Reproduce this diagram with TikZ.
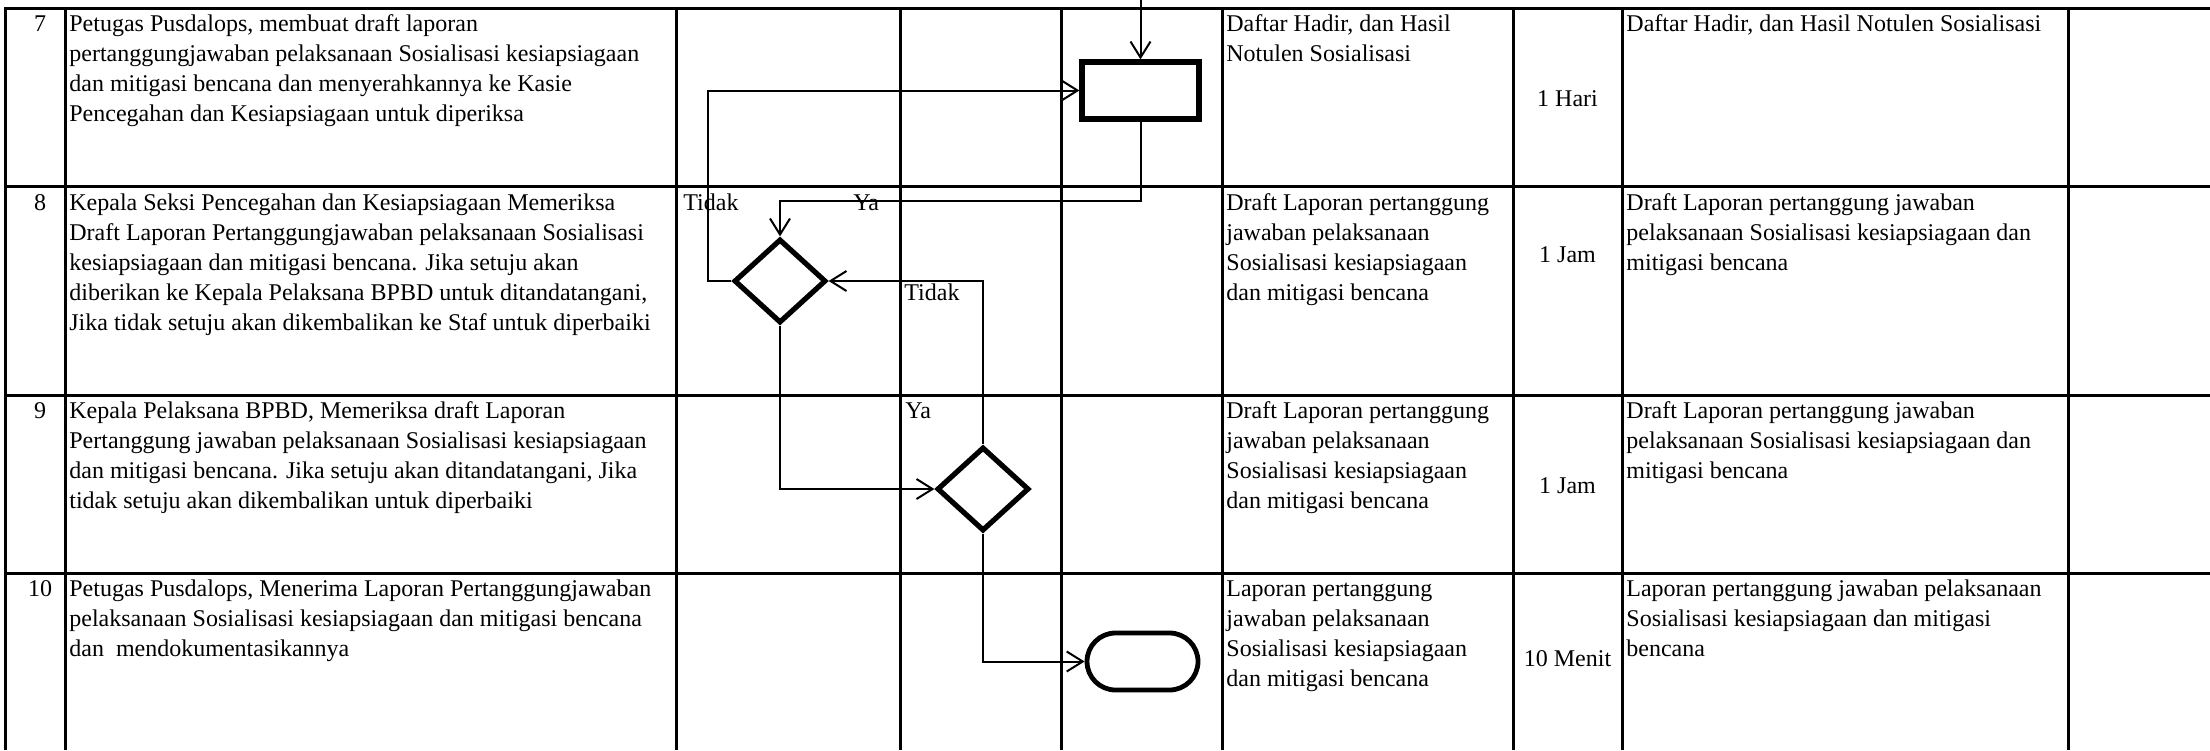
\documentclass[tikz,border=0pt]{standalone}
\usepackage{fontspec}
\setmainfont{Liberation Serif}
\usetikzlibrary{arrows.meta,shapes.geometric,shapes.misc}
\newcommand{\mlines}[1]{\begin{tabular}[t]{@{}l@{}}#1\end{tabular}}
\begin{document}
\begin{tikzpicture}[x=0.5pt,y=-0.5pt,
  gridline/.style={line width=1.5pt},
  txt/.style={anchor=base west, inner sep=0pt, font=\fontsize{12}{15}\selectfont},
  num/.style={anchor=base, inner sep=0pt, font=\fontsize{12}{15}\selectfont},
  dur/.style={anchor=base, inner sep=0pt, font=\fontsize{12}{15}\selectfont},
  procbox/.style={draw, line width=2.6pt, rectangle, inner sep=0pt, minimum width=58.5pt, minimum height=28.5pt},
  decbox/.style={draw, line width=2.6pt, diamond, inner sep=0pt, minimum width=46pt, minimum height=42pt},
  termbox/.style={draw, line width=2.4pt, rounded rectangle, inner sep=0pt, minimum width=55.5pt, minimum height=28.5pt},
  conn/.style={line width=1pt, -{Straight Barb[length=8pt,width=10pt,line width=1pt]}},
  lbl/.style={anchor=base west, inner sep=0pt, font=\fontsize{12}{15}\selectfont}
]
\useasboundingbox (0,0) rectangle (2210,750);
\fill[white] (0,0) rectangle (2210,750);

% grid
\draw[gridline] (5,8) -- (2210,8);
\draw[gridline] (5,186.5) -- (2210,186.5);
\draw[gridline] (5,395) -- (2210,395);
\draw[gridline] (5,573) -- (2210,573);
\foreach \xx in {5,65,676,900,1061,1222,1513,1622,2068}
  \draw[gridline] (\xx,7.3) -- (\xx,750);

% row numbers
\node[num] (n7) at (40,31.3) {7};
\node[num] (n8) at (40,210) {8};
\node[num] (n9) at (40,418.3) {9};
\node[num] (n10) at (40,596.3) {10};

% activity descriptions
\node[txt] (a7) at (69,31.3) {\mlines{Petugas Pusdalops, membuat draft laporan\\
pertanggungjawaban pelaksanaan Sosialisasi kesiapsiagaan\\
dan mitigasi bencana dan menyerahkannya ke Kasie\\
Pencegahan dan Kesiapsiagaan untuk diperiksa}};
\node[txt] (a8) at (69,210) {\mlines{Kepala Seksi Pencegahan dan Kesiapsiagaan Memeriksa\\
Draft Laporan Pertanggungjawaban pelaksanaan Sosialisasi\\
kesiapsiagaan dan mitigasi bencana. Jika setuju akan\\
diberikan ke Kepala Pelaksana BPBD untuk ditandatangani,\\
Jika tidak setuju akan dikembalikan ke Staf untuk diperbaiki}};
\node[txt] (a9) at (69,418.3) {\mlines{Kepala Pelaksana BPBD, Memeriksa draft Laporan\\
Pertanggung jawaban pelaksanaan Sosialisasi kesiapsiagaan\\
dan mitigasi bencana. Jika setuju akan ditandatangani, Jika\\
tidak setuju akan dikembalikan untuk diperbaiki}};
\node[txt] (a10) at (69,596.3) {\mlines{Petugas Pusdalops, Menerima Laporan Pertanggungjawaban\\
pelaksanaan Sosialisasi kesiapsiagaan dan mitigasi bencana\\
dan\ \ mendokumentasikannya}};

% requirements column
\node[txt] (k7) at (1226,31.3) {\mlines{Daftar Hadir, dan Hasil\\ Notulen Sosialisasi}};
\node[txt] (k8) at (1226,210) {\mlines{Draft Laporan pertanggung\\ jawaban pelaksanaan\\ Sosialisasi kesiapsiagaan\\ dan mitigasi bencana}};
\node[txt] (k9) at (1226,418.3) {\mlines{Draft Laporan pertanggung\\ jawaban pelaksanaan\\ Sosialisasi kesiapsiagaan\\ dan mitigasi bencana}};
\node[txt] (k10) at (1226,596.3) {\mlines{Laporan pertanggung\\ jawaban pelaksanaan\\ Sosialisasi kesiapsiagaan\\ dan mitigasi bencana}};

% durations
\node[dur] (w7) at (1567.5,106) {1 Hari};
\node[dur] (w8) at (1567.5,262) {1 Jam};
\node[dur] (w9) at (1567.5,493) {1 Jam};
\node[dur] (w10) at (1567.5,666) {10 Menit};

% outputs
\node[txt] (o7) at (1626,31.3) {\mlines{Daftar Hadir, dan Hasil Notulen Sosialisasi}};
\node[txt] (o8) at (1626,210) {\mlines{Draft Laporan pertanggung jawaban\\ pelaksanaan Sosialisasi kesiapsiagaan dan\\ mitigasi bencana}};
\node[txt] (o9) at (1626,418.3) {\mlines{Draft Laporan pertanggung jawaban\\ pelaksanaan Sosialisasi kesiapsiagaan dan\\ mitigasi bencana}};
\node[txt] (o10) at (1626,596.3) {\mlines{Laporan pertanggung jawaban pelaksanaan\\ Sosialisasi kesiapsiagaan dan mitigasi\\ bencana}};

% flow shapes
\node[procbox] (rect) at (1140.5,90.5) {};
\node[decbox] (d1) at (780,281) {};
\node[decbox] (d2) at (983,489) {};
\node[termbox] (term) at (1142.5,661.5) {};

% connectors
\coordinate (topin) at (1140.5,0);
\draw[conn] (topin) -- (rect.north);
\draw[conn] (d1.west) -- ++(-23,0) |- (rect.west);
\coordinate (j1) at (1140.5,201);
\draw[conn] (rect.south) -- (j1) -| (d1.north);
\draw[conn] (d1.south) |- (d2.west);
\draw[conn] (d2.north) |- (d1.east);
\draw[conn] (d2.south) |- (term.west);

% labels
\node[lbl] (t1) at (683,210) {Tidak};
\node[lbl] (y1) at (853,210) {Ya};
\node[lbl] (t2) at (904,300) {Tidak};
\node[lbl] (y2) at (905,418.3) {Ya};
\end{tikzpicture}
\end{document}
